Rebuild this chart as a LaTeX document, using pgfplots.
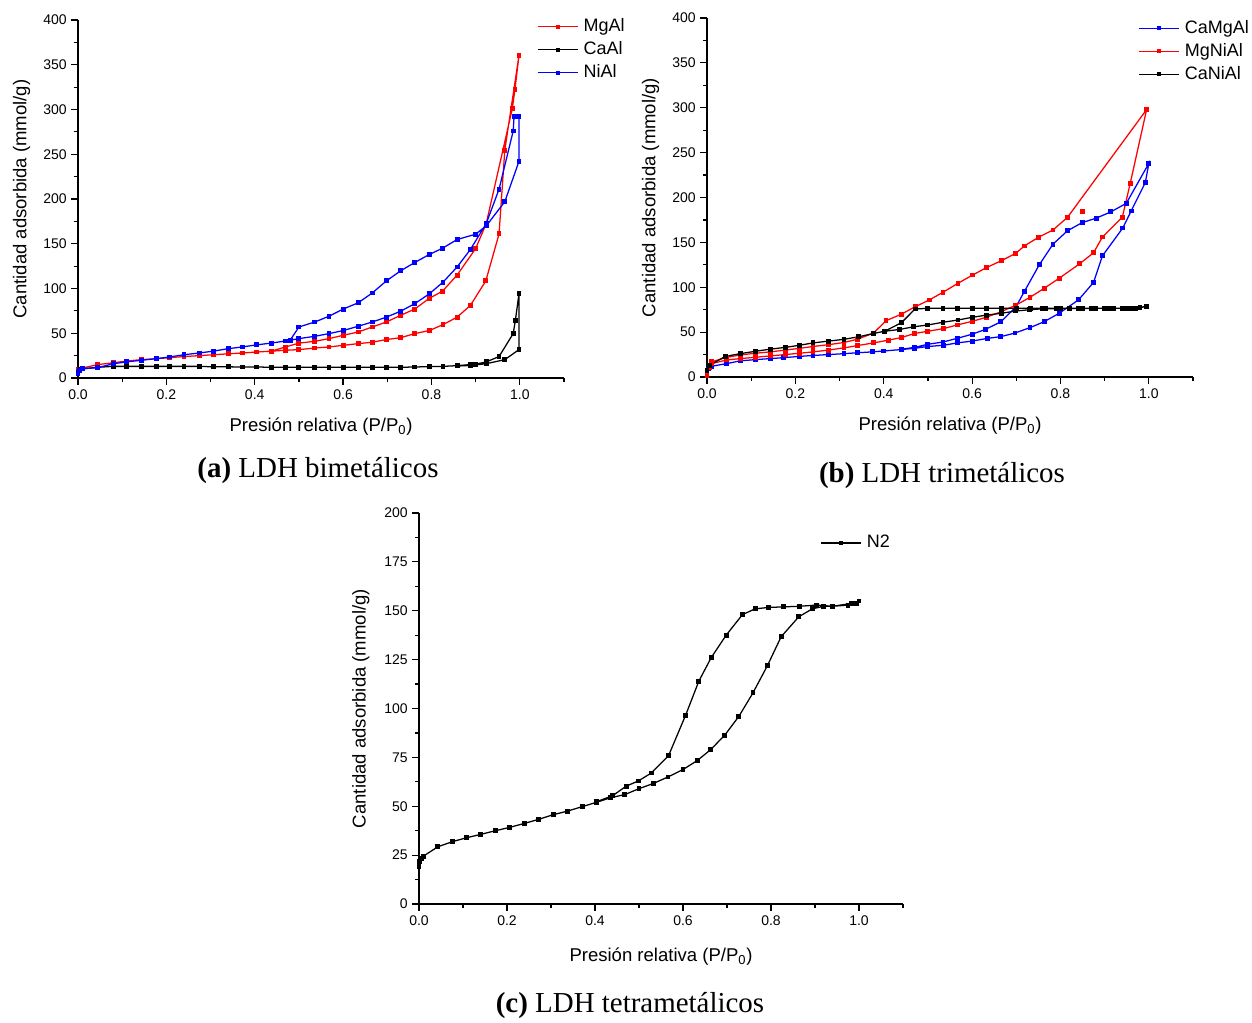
\documentclass[border=0pt]{standalone}
\usepackage{fontspec}
\setmainfont{Liberation Sans}
\newfontfamily\capfont{Liberation Serif}
\usepackage{pgfplots}
\pgfplotsset{compat=1.18}

% legend sample: 30pt line with a small mark in the middle
\pgfplotsset{
  legend image code/.code={%
    \draw[mark repeat=2,mark phase=2,#1,mark size=1.0pt]
      plot coordinates {(0pt,0pt) (15pt,0pt) (30pt,0pt)};},
}

\pgfplotsset{
  iso/.style={
    scale only axis,
    anchor=south west,
    axis lines=left,
    axis line style={-, line width=0.9pt},
    xmin=0, xmax=1.1,
    xtick={0,0.2,0.4,0.6,0.8,1.0},
    minor xtick={0.1,0.3,0.5,0.7,0.9,1.1},
    minor y tick num=1,
    tick align=outside,
    major tick length=5pt, minor tick length=3pt,
    tick style={black, line width=0.9pt},
    /pgf/number format/assume math mode=true,
    xticklabel style={/pgf/number format/.cd, fixed, fixed zerofill, precision=1},
    ticklabel style={font=\fontsize{10.5}{12}\selectfont},
    xlabel={Presión relativa (P/P\textsubscript{0})},
    ylabel={Cantidad adsorbida (mmol/g)},
    every axis x label/.style={at={(axis description cs:0.5,-0.136)}, anchor=center,
      font=\fontsize{13.9}{16}\selectfont},
    every axis y label/.style={at={(axis description cs:-0.116,0.5)}, rotate=90, anchor=center,
      font=\fontsize{13.9}{16}\selectfont},
    legend style={draw=none, fill=none, anchor=north west,
      font=\fontsize{13.5}{16}\selectfont, row sep=4.25pt, column sep=4pt, inner sep=0pt,
      nodes={inner sep=0pt, text height=10pt, text depth=3pt}},
    legend cell align=left,
    every axis plot/.append style={line width=0.95pt, mark=square*, mark size=1.35pt},
  }
}

\begin{document}
\begin{tikzpicture}
\useasboundingbox (0,0) rectangle (939pt,-766.5pt);

% ---------------- (a) bimetalicos
\begin{axis}[iso,
  at={(58.5pt,-283.5pt)}, width=364.5pt, height=268.5pt,
  ymin=0, ymax=400, ytick={0,50,...,400},
  legend style={at={(0.944,1.006)}},
]
\addplot[red] coordinates {
(0,10) (0.045,15) (0.08,17) (0.11,19) (0.143,20.5) (0.177,21.6) (0.207,22.7)
(0.24,24) (0.275,25) (0.306,26) (0.34,27) (0.372,28) (0.404,29) (0.437,30)
(0.47,31) (0.5,31.7) (0.536,33.5) (0.568,34.7) (0.6,36.5) (0.634,38.4) (0.666,40)
(0.698,43) (0.73,45) (0.762,49.6) (0.795,53) (0.826,59.6) (0.858,68) (0.888,81)
(0.923,108.5) (0.953,161) (0.966,254.6) (0.998,360) (0.989,322.5) (0.983,301)
(0.924,172.6) (0.9,144.6) (0.858,115) (0.825,97) (0.795,89) (0.762,77) (0.73,70)
(0.698,62.6) (0.666,57) (0.634,51.4) (0.6,47.7) (0.568,44) (0.536,41) (0.5,39)
(0.47,34.7) (0.437,30)
};
\addplot[black] coordinates {
(0,6.7) (0.005,10) (0.045,12) (0.08,13) (0.11,13) (0.143,13) (0.177,13) (0.207,13)
(0.24,13) (0.275,13) (0.306,12.5) (0.34,12.5) (0.372,12.3) (0.404,12.3) (0.437,12)
(0.47,12) (0.5,12) (0.536,12) (0.568,12) (0.6,12) (0.634,12) (0.666,12) (0.698,12)
(0.73,12) (0.762,12.3) (0.795,12.7) (0.826,13) (0.858,13.8) (0.888,15) (0.9,15.5)
(0.924,18) (0.953,24) (0.985,49.6) (0.99,64.5) (0.998,94) (0.998,31.7) (0.966,20.5)
(0.924,16) (0.888,14) (0.858,13.4)
};
\addplot[blue] coordinates {
(0,5) (0.004,8.6) (0.011,10.4) (0.045,11.6) (0.08,16) (0.11,18) (0.143,19.8)
(0.177,21.6) (0.207,23.5) (0.24,26) (0.275,28) (0.306,30) (0.34,32.8) (0.372,34.7)
(0.404,37) (0.437,39) (0.47,41.4) (0.5,44) (0.536,46.6) (0.568,49.6) (0.6,53)
(0.634,57.8) (0.666,62.6) (0.698,68) (0.73,74.6) (0.762,83) (0.795,94) (0.826,107)
(0.858,124) (0.888,143.5) (0.924,172.6) (0.953,211) (0.985,276) (0.987,292.6)
(0.998,292.6) (0.998,242) (0.966,197) (0.924,170) (0.9,160.7) (0.858,154.7)
(0.825,145) (0.795,138) (0.762,129) (0.73,119.7) (0.698,108.5) (0.666,95) (0.634,84)
(0.6,77) (0.568,69) (0.536,62.6) (0.5,57) (0.48,42)
};
\legend{MgAl, CaAl, NiAl}
\end{axis}

% ---------------- (b) trimetalicos
\begin{axis}[iso,
  at={(530.25pt,-282.75pt)}, width=364.5pt, height=269.25pt,
  ymin=0, ymax=400, ytick={0,50,...,400},
  legend style={at={(0.887,0.996)}},
]
\addplot[blue] coordinates {
(0,5.6) (0.004,9) (0.011,12) (0.045,15) (0.075,18) (0.11,19.4) (0.143,20.5)
(0.174,21.6) (0.21,23) (0.24,24) (0.275,25) (0.31,26) (0.34,27) (0.374,28) (0.40,29)
(0.44,30.6) (0.47,32) (0.5,34) (0.536,35.4) (0.566,38) (0.6,40) (0.634,43) (0.665,45)
(0.697,49) (0.731,55) (0.763,61.6) (0.797,71) (0.841,86) (0.875,105.5) (0.895,135)
(0.941,166) (0.96,185) (0.992,216.5) (1.0,238) (0.949,193.5) (0.914,184) (0.881,177)
(0.849,172) (0.816,163) (0.783,148) (0.752,125) (0.718,95) (0.699,78) (0.665,61.5)
(0.63,53) (0.6,47.7) (0.566,43) (0.534,39) (0.5,36.5) (0.47,33) (0.44,31)
};
\addplot[red] coordinates {
(0,2) (0.005,11) (0.011,15) (0.045,19) (0.075,20.5) (0.11,22) (0.143,23.5) (0.177,25)
(0.21,26.5) (0.24,28) (0.275,30) (0.31,32.5) (0.34,35) (0.377,38) (0.41,41) (0.44,44)
(0.47,48.5) (0.5,51) (0.536,54) (0.566,58) (0.6,62) (0.632,66.5) (0.666,72.8)
(0.699,80) (0.731,88.8) (0.763,98.8) (0.797,110) (0.843,126) (0.875,138.5) (0.895,156)
(0.94,178) (0.958,216) (0.995,298) (0.816,178) (0.783,163.8) (0.75,155.6) (0.718,146)
(0.699,137.8) (0.666,129.6) (0.633,122) (0.601,113.6) (0.568,104.4) (0.534,94.4)
(0.503,85.8) (0.471,78.3) (0.44,70) (0.405,62.7) (0.377,49) (0.34,42) (0.31,38.5)
(0.275,36) (0.24,34) (0.21,32) (0.177,30) (0.143,28) (0.11,26.5) (0.075,24.5)
(0.045,22) (0.011,17)
};
\addplot[black] coordinates {
(0,7.5) (0.005,13) (0.042,23) (0.075,26) (0.11,28.7) (0.143,31) (0.177,33) (0.21,35.4)
(0.24,38) (0.275,40) (0.31,42) (0.343,44.8) (0.377,48.5) (0.402,51) (0.436,53)
(0.468,56) (0.5,58) (0.534,61) (0.568,63.5) (0.6,66.5) (0.633,69) (0.666,71)
(0.699,73.5) (0.73,75) (0.76,76) (0.79,76.2) (0.82,76.3) (0.85,76.4) (0.88,76.5)
(0.91,76.5) (0.94,76.5) (0.96,76.6) (0.98,77) (0.995,79) (0.97,76.5) (0.95,76.5)
(0.92,76.5) (0.9,76.5) (0.87,76.5) (0.84,76.5) (0.8,76.5) (0.766,76.5) (0.733,76.5)
(0.7,76.5) (0.666,76.5) (0.633,76.5) (0.6,76.5) (0.566,76.5) (0.534,76.5) (0.5,76.5)
(0.471,75.8) (0.44,60.5) (0.402,51)
};
\addplot[red, only marks, forget plot] coordinates {(0.85,184)};
\legend{CaMgAl, MgNiAl, CaNiAl}
\end{axis}

% ---------------- (c) tetrametalicos
\begin{axis}[iso,
  at={(314.25pt,-678pt)}, width=363pt, height=293.25pt,
  ymin=0, ymax=200, ytick={0,25,...,200},
  every axis y label/.style={at={(axis description cs:-0.12,0.5)}, rotate=90, anchor=center,
    font=\fontsize{13.9}{16}\selectfont},
  every axis x label/.style={at={(axis description cs:0.5,-0.135)}, anchor=center,
    font=\fontsize{13.9}{16}\selectfont},
  legend style={at={(0.8285,0.946)}},
]
\addplot[black] coordinates {
(0,19.4) (0.001,21.6) (0.005,23.3) (0.01,24.5) (0.043,29.3) (0.076,31.9) (0.108,33.9)
(0.14,35.6) (0.174,37.5) (0.206,39.2) (0.239,41.2) (0.272,43.3) (0.305,45.7)
(0.337,47.5) (0.371,49.8) (0.403,52) (0.436,54.4) (0.468,56) (0.5,59) (0.533,61.7)
(0.566,65) (0.6,68.8) (0.632,73.3) (0.663,79) (0.695,86.4) (0.727,96) (0.759,108)
(0.792,122) (0.823,136.7) (0.863,146.9) (0.894,151) (0.92,152.3) (0.94,152.3)
(0.975,152.9) (0.994,153.7) (1.0,155) (0.982,153.7) (0.94,152.3) (0.903,152.9)
(0.865,152.3) (0.829,152) (0.795,151.7) (0.764,151) (0.735,148) (0.698,137.5)
(0.664,126) (0.636,114) (0.606,96.6) (0.567,75.8) (0.528,67) (0.498,62.9)
(0.471,60.3) (0.44,55.4) (0.403,52.3)
};
\legend{N2}
\end{axis}

\node[font=\capfont\fontsize{21.7}{26}\selectfont] at (238.5pt,-353.25pt) {\textbf{(a)} LDH bimetálicos};
\node[font=\capfont\fontsize{21.7}{26}\selectfont] at (706.5pt,-357pt) {\textbf{(b)} LDH trimetálicos};
\node[font=\capfont\fontsize{21.7}{26}\selectfont, inner sep=0pt] at (472.5pt,-754.5pt) {\textbf{(c)} LDH tetrametálicos};
\end{tikzpicture}
\end{document}
